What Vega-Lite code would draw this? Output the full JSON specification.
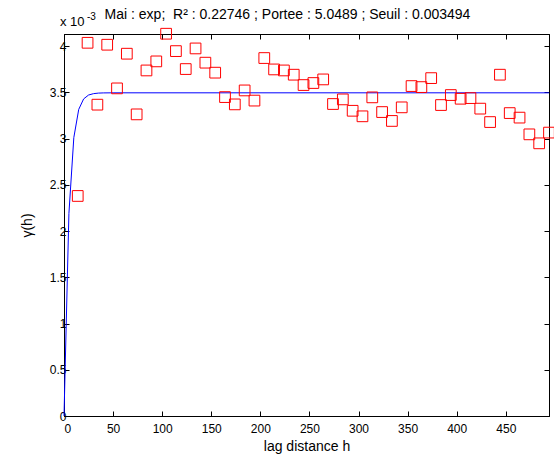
{
  "$schema": "https://vega.github.io/schema/vega-lite/v6.json",
  "autosize": "none",
  "width": 485,
  "height": 382,
  "padding": {"left": 64, "top": 34, "right": 5, "bottom": 39},
  "background": "white",
  "title": {
    "text": "Mai : exp;\u00a0 R² : 0.22746 ; Portee : 5.0489 ; Seuil : 0.003494",
    "font": "Liberation Sans",
    "fontSize": 14,
    "fontWeight": "normal",
    "color": "black",
    "anchor": "middle",
    "baseline": "alphabetic",
    "dx": -19,
    "offset": -21
  },
  "datasets": {
    "pts": [
      {"h": 14, "g": 0.002379}, {"h": 24, "g": 0.004035}, {"h": 34, "g": 0.003366}, {"h": 44, "g": 0.004014},
      {"h": 54, "g": 0.003542}, {"h": 64, "g": 0.003917}, {"h": 74, "g": 0.003261}, {"h": 84, "g": 0.003736},
      {"h": 94, "g": 0.003834}, {"h": 104, "g": 0.004133}, {"h": 114, "g": 0.003945}, {"h": 124, "g": 0.003751},
      {"h": 134, "g": 0.003974}, {"h": 144, "g": 0.00382}, {"h": 154, "g": 0.003712}, {"h": 164, "g": 0.003448},
      {"h": 174, "g": 0.003369}, {"h": 184, "g": 0.00352}, {"h": 194, "g": 0.00341}, {"h": 204, "g": 0.00387},
      {"h": 214, "g": 0.003747}, {"h": 224, "g": 0.003736}, {"h": 234, "g": 0.00369}, {"h": 244, "g": 0.003578},
      {"h": 254, "g": 0.0036}, {"h": 264, "g": 0.003639}, {"h": 274, "g": 0.003373}, {"h": 284, "g": 0.003423},
      {"h": 294, "g": 0.0033}, {"h": 304, "g": 0.00324}, {"h": 314, "g": 0.003445}, {"h": 324, "g": 0.003286},
      {"h": 334, "g": 0.00319}, {"h": 344, "g": 0.003337}, {"h": 354, "g": 0.003567}, {"h": 364, "g": 0.003556},
      {"h": 374, "g": 0.003653}, {"h": 384, "g": 0.003362}, {"h": 394, "g": 0.00347}, {"h": 404, "g": 0.00343},
      {"h": 414, "g": 0.003437}, {"h": 424, "g": 0.003323}, {"h": 434, "g": 0.003178}, {"h": 444, "g": 0.00369},
      {"h": 454, "g": 0.003275}, {"h": 464, "g": 0.003226}, {"h": 474, "g": 0.003045}, {"h": 484, "g": 0.002948},
      {"h": 494, "g": 0.003064}
    ],
    "model": [
      {"h": 0, "g": 0}, {"h": 5, "g": 0.00219}, {"h": 10, "g": 0.00301}, {"h": 15, "g": 0.003315},
      {"h": 20, "g": 0.003428}, {"h": 25, "g": 0.00347}, {"h": 30, "g": 0.003485}, {"h": 35, "g": 0.003491},
      {"h": 40, "g": 0.003493}, {"h": 50, "g": 0.003494}, {"h": 494, "g": 0.003494}
    ],
    "label": [{"h": 0, "g": 0.00413}]
  },
  "layer": [
    {
      "data": {"name": "model"},
      "mark": {"type": "line", "color": "#0000ff", "strokeWidth": 1},
      "encoding": {
        "x": {"field": "h", "type": "quantitative",
          "scale": {"domain": [0, 494], "nice": false, "zero": false},
          "axis": {"orient": "bottom", "values": [0, 50, 100, 150, 200, 250, 300, 350, 400, 450],
            "title": "lag distance h", "labelPadding": 12, "titlePadding": 5}},
        "y": {"field": "g", "type": "quantitative",
          "scale": {"domain": [0, 0.00413], "nice": false, "zero": false},
          "axis": {"orient": "left", "values": [0, 0.0005, 0.001, 0.0015, 0.002, 0.0025, 0.003, 0.0035, 0.004],
            "labelExpr": "format(datum.value*1000, '~g')",
            "title": "γ(h)", "labelPadding": 3, "titlePadding": 15}}
      }
    },
    {
      "data": {"name": "pts"},
      "mark": {"type": "point", "shape": "square", "filled": false, "color": "#ff0000", "strokeWidth": 1, "size": 115, "opacity": 1},
      "encoding": {
        "x": {"field": "h", "type": "quantitative",
          "axis": {"orient": "top", "values": [0, 50, 100, 150, 200, 250, 300, 350, 400, 450], "labels": false, "title": null}},
        "y": {"field": "g", "type": "quantitative",
          "axis": {"orient": "right", "values": [0, 0.0005, 0.001, 0.0015, 0.002, 0.0025, 0.003, 0.0035, 0.004], "labels": false, "title": null}}
      }
    },
    {
      "data": {"name": "label"},
      "mark": {"type": "text", "text": "x 10", "align": "left", "baseline": "alphabetic", "dx": -4, "dy": -8,
        "font": "Liberation Sans", "fontSize": 13, "color": "black"},
      "encoding": {
        "x": {"field": "h", "type": "quantitative", "axis": null},
        "y": {"field": "g", "type": "quantitative", "axis": null}
      }
    },
    {
      "data": {"name": "label"},
      "mark": {"type": "text", "text": "-3", "align": "left", "baseline": "alphabetic", "dx": 23, "dy": -14,
        "font": "Liberation Sans", "fontSize": 10, "color": "black"},
      "encoding": {
        "x": {"field": "h", "type": "quantitative", "axis": null},
        "y": {"field": "g", "type": "quantitative", "axis": null}
      }
    }
  ],
  "resolve": {"axis": {"x": "independent", "y": "independent"}},
  "config": {
    "view": {"stroke": "black", "strokeWidth": 1},
    "axis": {
      "grid": false,
      "domainColor": "black",
      "domainWidth": 1,
      "tickColor": "black",
      "tickSize": -5,
      "labelFont": "Liberation Sans",
      "labelFontSize": 12,
      "labelColor": "black",
      "titleFont": "Liberation Sans",
      "titleFontSize": 14,
      "titleFontWeight": "normal",
      "titleColor": "black"
    }
  }
}
